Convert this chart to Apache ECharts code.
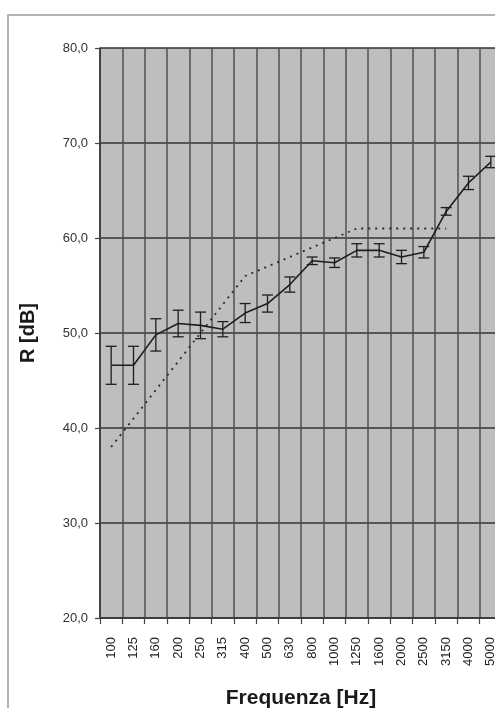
<!DOCTYPE html>
<html>
<head>
<meta charset="utf-8">
<script src="https://cdn.jsdelivr.net/npm/echarts@6/dist/echarts.min.js"></script>
<style>html,body{margin:0;padding:0;background:#fff;}#c{width:495px;height:708px;}</style>
</head>
<body>
<div id="c"></div>
<script>
const categories = ['100','125','160','200','250','315','400','500','630','800','1000','1250','1600','2000','2500','3150','4000','5000'];
const measured = [46.6, 46.6, 49.8, 51.0, 50.8, 50.4, 52.1, 53.1, 55.1, 57.6, 57.4, 58.7, 58.7, 58.0, 58.5, 62.8, 65.8, 68.0];
const uncertainty = [2.0, 2.0, 1.7, 1.4, 1.4, 0.8, 1.0, 0.9, 0.8, 0.4, 0.5, 0.7, 0.7, 0.7, 0.6, 0.4, 0.7, 0.6];
const reference = [38, 41, 44, 47, 50, 53, 56, 57, 58, 59, 60, 61, 61, 61, 61, 61, null, null];
const yTicks = [20, 30, 40, 50, 60, 70, 80];

const errData = measured.map((v, i) => [i, v - uncertainty[i], v + uncertainty[i]]);

const chart = echarts.init(document.getElementById('c'), null, {renderer: 'canvas'});
chart.setOption({
  backgroundColor: '#ffffff',
  animation: false,
  graphic: [{
    type: 'rect', shape: {x: 8, y: 15, width: 700, height: 900},
    style: {fill: 'none', stroke: '#b4b4b4', lineWidth: 2}, z: -10
  }],
  grid: {left: 100, top: 48, width: 402, height: 570, outerBoundsMode: 'none', containLabel: false,
    backgroundColor: '#bebebe', show: true, borderWidth: 0},
  xAxis: {
    type: 'category', data: categories, boundaryGap: true,
    name: 'Frequenza [Hz]', nameLocation: 'middle', nameGap: 70,
    nameTextStyle: {fontFamily: 'Liberation Sans, Arial', fontWeight: 'bold', fontSize: 21, color: '#1a1a1a'},
    axisLine: {show: true, lineStyle: {color: '#333', width: 1.5}},
    axisTick: {show: true, alignWithLabel: false, length: 6, lineStyle: {color: '#444', width: 1.2}},
    axisLabel: {rotate: 90, interval: 0, margin: 19, fontFamily: 'Liberation Sans, Arial', fontSize: 13, color: '#1e1e1e'},
    splitLine: {show: true, interval: 0, lineStyle: {color: '#505050', width: 1.5}}
  },
  yAxis: {
    type: 'value', min: yTicks[0], max: yTicks[yTicks.length - 1], interval: 10,
    name: 'R [dB]', nameLocation: 'middle', nameGap: 62, nameRotate: 90,
    nameTextStyle: {fontFamily: 'Liberation Sans, Arial', fontWeight: 'bold', fontSize: 20, color: '#1a1a1a'},
    axisLine: {show: true, lineStyle: {color: '#333', width: 1.5}},
    axisTick: {show: true, length: 5, lineStyle: {color: '#444', width: 1.2}},
    axisLabel: {margin: 12, fontFamily: 'Liberation Sans, Arial', fontSize: 13, color: '#333',
      formatter: v => v.toFixed(1).replace('.', ',')},
    splitLine: {show: true, lineStyle: {color: '#333', width: 1.5}}
  },
  series: [
    {
      type: 'line', data: reference, showSymbol: false, symbol: 'none',
      lineStyle: {color: '#2a2a2a', width: 1.8, type: [2, 5]}, z: 3
    },
    {
      type: 'line', data: measured, showSymbol: false, symbol: 'none',
      lineStyle: {color: '#1e1e1e', width: 1.6}, z: 4
    },
    {
      type: 'custom', data: errData, z: 5,
      renderItem: function (params, api) {
        const x = api.value(0);
        const lo = api.coord([x, api.value(1)]);
        const hi = api.coord([x, api.value(2)]);
        const w = 5.5;
        const st = {stroke: '#1e1e1e', lineWidth: 1.3, fill: 'none'};
        return {type: 'group', children: [
          {type: 'line', shape: {x1: lo[0], y1: lo[1], x2: hi[0], y2: hi[1]}, style: st},
          {type: 'line', shape: {x1: lo[0] - w, y1: lo[1], x2: lo[0] + w, y2: lo[1]}, style: st},
          {type: 'line', shape: {x1: hi[0] - w, y1: hi[1], x2: hi[0] + w, y2: hi[1]}, style: st}
        ]};
      }
    }
  ]
});
</script>
</body>
</html>
